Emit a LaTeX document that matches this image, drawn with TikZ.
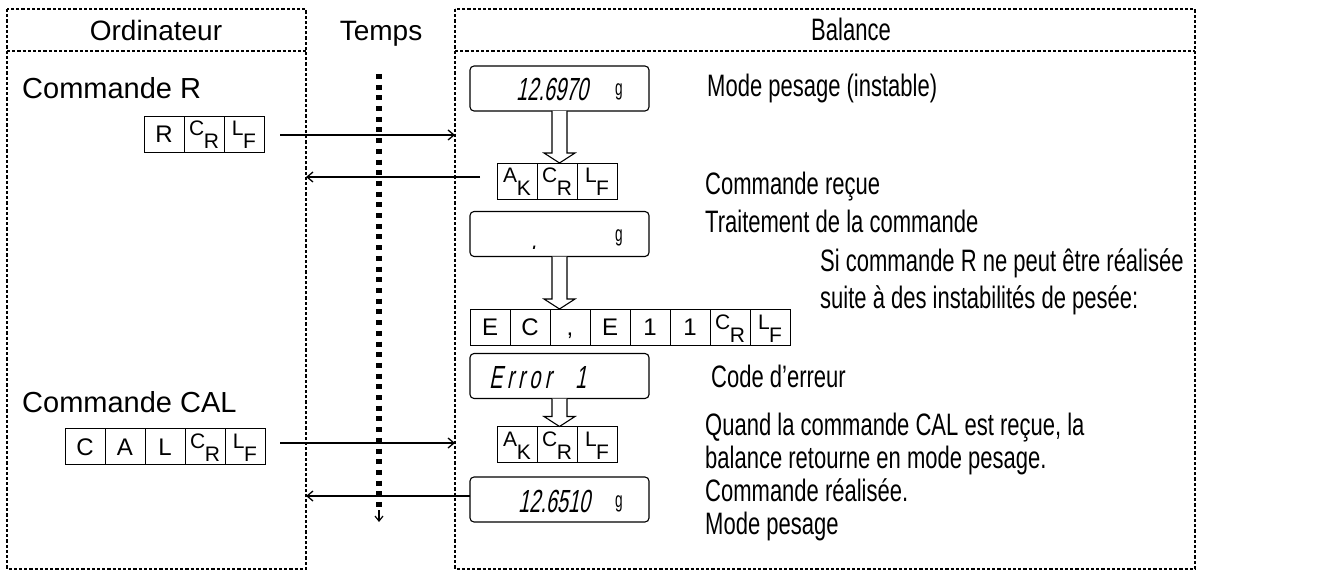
\documentclass[tikz,border=0pt]{standalone}
\usepackage{fontspec}
\setmainfont{Liberation Sans}
\newfontfamily\narrowfont{Liberation Sans}[FakeStretch=0.71]
\newfontfamily\segfont{Liberation Sans}[FakeStretch=0.62,FakeSlant=0.2]
\newfontfamily\seggfont{Liberation Sans}[FakeStretch=0.62]
\usetikzlibrary{arrows.meta,calc}
\newcommand\twolet[2]{\fontsize{21}{21}\selectfont\raisebox{6.5pt}{#1}\kern-0.5pt\raisebox{-6.5pt}{#2}}
\newcommand\blockarrow[2]{%
  \draw[blk] let \p1=(#1), \p2=(#2) in
    (\x1-7.5pt,\y1) -- (\x1-7.5pt,\y2+10pt) -- (\x1-15.5pt,\y2+10pt) -- (\x1,\y2)
    -- (\x1+15.5pt,\y2+10pt) -- (\x1+7.5pt,\y2+10pt) -- (\x1+7.5pt,\y1);}
\begin{document}
\begin{tikzpicture}[x=1pt,y=-1pt,
  frame/.style={draw, line width=1.6pt, dash pattern=on 3.2pt off 2pt},
  hdr/.style={anchor=base, font=\fontsize{28}{30}\selectfont, inner sep=0},
  lt/.style={anchor=base west, font=\fontsize{29}{31}\selectfont, inner sep=0},
  rt/.style={anchor=base west, font=\narrowfont\fontsize{31}{33}\selectfont, inner sep=0},
  cell/.style={draw, line width=0.9pt, minimum width=40pt, minimum height=36pt, inner sep=0pt, outer sep=0pt, text height=17pt, text depth=0pt, font=\fontsize{24}{24}\selectfont},
  disp/.style={draw, line width=1.1pt, rounded corners=4pt, minimum width=179pt, minimum height=45pt, inner sep=0pt, outer sep=0pt},
  seg/.style={font=\segfont\fontsize{32}{32}\selectfont, inner sep=0pt, anchor=base west},
  segg/.style={font=\seggfont\fontsize{22}{22}\selectfont, inner sep=0pt, anchor=base west},
  msg/.style={line width=1.3pt, -{Straight Barb[length=6pt,width=10pt]}},
  blk/.style={draw, line width=1.1pt, fill=white},
]
\path[use as bounding box] (0,0) rectangle (1328,572);
% frames
\coordinate (oTL) at (7,9); \coordinate (oBR) at (306,569);
\coordinate (bTL) at (455,9); \coordinate (bBR) at (1195,569);
\coordinate (oH1) at (7,51); \coordinate (oH2) at (306,51);
\coordinate (bH1) at (455,51); \coordinate (bH2) at (1195,51);
\draw[frame] (oTL) rectangle (oBR);
\draw[frame] (bTL) rectangle (bBR);
\draw[frame] (oH1) -- (oH2);
\draw[frame] (bH1) -- (bH2);
\node[hdr] (hO) at (156,41) {Ordinateur};
\node[hdr] (hT) at (381,41) {Temps};
\node[hdr,font=\narrowfont\fontsize{31}{33}\selectfont] (hB) at (851,41) {Balance};
% time line
\coordinate (t0) at (379,74);
\coordinate (t1) at (379,510);
\coordinate (t2) at (379,522);
\draw[line width=5.5pt, dash pattern=on 5pt off 5.7pt] (t0) -- (t1);
\draw[line width=1.2pt, -{Straight Barb[length=5pt,width=8pt]}] (t1) -- (t2);
% left texts
\node[lt] (cR) at (22,99) {Commande R};
\node[lt] (cCAL) at (22,412) {Commande CAL};
% R command
\node[cell] (r1) at (164,134) {R};
\node[cell] (r2) at (204,134) {\twolet CR};
\node[cell] (r3) at (244,134) {\twolet LF};
% CAL command
\node[cell] (c1) at (85,446.5) {C};
\node[cell] (c2) at (125,446.5) {A};
\node[cell] (c3) at (165,446.5) {L};
\node[cell] (c4) at (205,446.5) {\twolet CR};
\node[cell] (c5) at (245,446.5) {\twolet LF};
% displays
\node[disp] (d1) at (559.5,88.5) {};
\node[seg] (d1t) at (516,101) {12.6970};
\node[segg] (d1g) at (615,96) {g};
\node[disp] (d2) at (559.5,234) {};
\node[seg] (d2t) at (531,250) {.};
\node[segg] (d2g) at (615,241) {g};
\node[disp] (d3) at (559.5,376) {};
\node[seg] (d3t) at (489,388) {\addfontfeatures{LetterSpace=14}Error\hspace{24pt}1};
\node[disp] (d4) at (559.5,499.5) {};
\node[seg] (d4t) at (518,512) {12.6510};
\node[segg] (d4g) at (615,507) {g};
% AK boxes
\node[cell] (k1) at (517,181) {\twolet AK};
\node[cell] (k2) at (557,181) {\twolet CR};
\node[cell] (k3) at (597,181) {\twolet LF};
\node[cell] (m1) at (517,444.5) {\twolet AK};
\node[cell] (m2) at (557,444.5) {\twolet CR};
\node[cell] (m3) at (597,444.5) {\twolet LF};
% EC,E11 box
\node[cell] (e1) at (490,327) {E};
\node[cell] (e2) at (530,327) {C};
\node[cell] (e3) at (570,327) {,};
\node[cell] (e4) at (610,327) {E};
\node[cell] (e5) at (650,327) {1};
\node[cell] (e6) at (690,327) {1};
\node[cell] (e7) at (730,327) {\twolet CR};
\node[cell] (e8) at (770,327) {\twolet LF};
% block arrows
\blockarrow{d1.south}{k2.north}
\blockarrow{d2.south}{e4.north -| d2.south}
\blockarrow{d3.south}{m2.north}
% messages
\coordinate (a1s) at (280,135);
\coordinate (a2s) at (480,177);
\coordinate (a3s) at (280,443);
\coordinate (a4s) at (d4.west |- 0,496);
\draw[msg] (a1s) -- (a1s -| bTL);
\draw[msg] (a2s) -- (a2s -| oBR);
\draw[msg] (a3s) -- (a3s -| bTL);
\draw[msg] (a4s) -- (a4s -| oBR);
% right texts
\node[rt] (tx1) at (707,97) {Mode pesage (instable)};
\node[rt] (tx2) at (705,195) {Commande reçue};
\node[rt] (tx3) at (705,233) {Traitement de la commande};
\node[rt] (tx4) at (820,271) {Si commande R ne peut être réalisée};
\node[rt] (tx5) at (820,308) {suite à des instabilités de pesée:};
\node[rt] (tx6) at (711,387) {Code d’erreur};
\node[rt] (tx7) at (705,435) {Quand la commande CAL est reçue, la};
\node[rt] (tx8) at (705,468) {balance retourne en mode pesage.};
\node[rt] (tx9) at (705,501) {Commande réalisée.};
\node[rt] (tx10) at (705,534) {Mode pesage};
\end{tikzpicture}
\end{document}
